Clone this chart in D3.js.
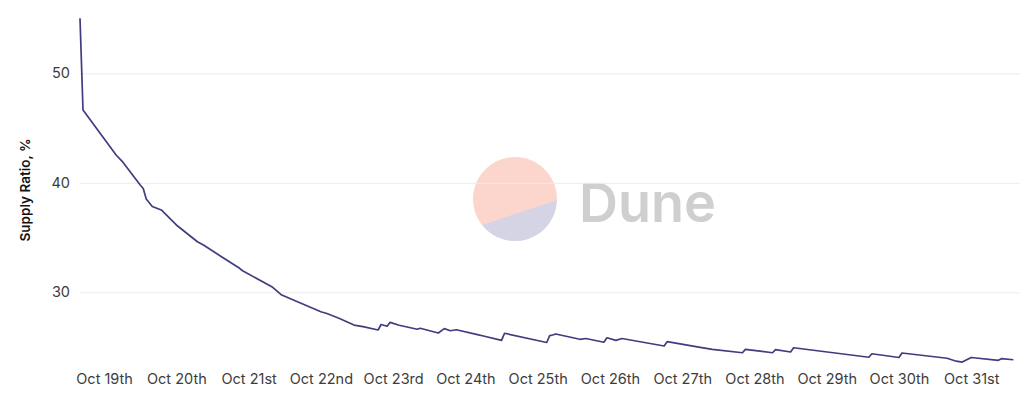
<!DOCTYPE html>
<html>
<head>
<meta charset="utf-8">
<script src="https://cdn.jsdelivr.net/npm/d3@7"></script>
<style>
  html, body { margin: 0; padding: 0; background: #fff; }
  svg { display: block; }
</style>
</head>
<body>
<svg id="chart" width="1024" height="409"></svg>
<script>
// hourly snapshots (breakpoints only)
var times = [
  "2021-10-18 16:00", "2021-10-18 17:00", "2021-10-19 04:00", "2021-10-19 06:00",
  "2021-10-19 12:00", "2021-10-19 13:00", "2021-10-19 14:00", "2021-10-19 16:00",
  "2021-10-19 19:00", "2021-10-20 00:00", "2021-10-20 07:00", "2021-10-20 09:00",
  "2021-10-20 15:00", "2021-10-20 21:00", "2021-10-20 22:00", "2021-10-21 08:00",
  "2021-10-21 11:00", "2021-10-22 00:00", "2021-10-22 02:00", "2021-10-22 06:00",
  "2021-10-22 11:00", "2021-10-22 14:00", "2021-10-22 19:00", "2021-10-22 20:00",
  "2021-10-22 22:00", "2021-10-22 23:00", "2021-10-23 02:00", "2021-10-23 08:00",
  "2021-10-23 09:00", "2021-10-23 15:00", "2021-10-23 17:00", "2021-10-23 19:00",
  "2021-10-23 21:00", "2021-10-24 04:00", "2021-10-24 06:00", "2021-10-24 12:00",
  "2021-10-24 13:00", "2021-10-25 03:00", "2021-10-25 04:00", "2021-10-25 05:00",
  "2021-10-25 06:00", "2021-10-25 14:00", "2021-10-25 16:00", "2021-10-25 22:00",
  "2021-10-25 23:00", "2021-10-26 02:00", "2021-10-26 04:00", "2021-10-26 18:00",
  "2021-10-26 19:00", "2021-10-27 06:00", "2021-10-27 10:00", "2021-10-27 20:00",
  "2021-10-27 21:00", "2021-10-28 06:00", "2021-10-28 07:00", "2021-10-28 12:00",
  "2021-10-28 13:00", "2021-10-29 14:00", "2021-10-29 15:00", "2021-10-30 00:00",
  "2021-10-30 01:00", "2021-10-30 16:00", "2021-10-30 19:00", "2021-10-30 21:00",
  "2021-10-31 00:00", "2021-10-31 09:00", "2021-10-31 10:00", "2021-10-31 14:00"
];
var supplyRatio = [
  55.02, 46.65, 42.54, 41.96,
  39.80, 39.48, 38.52, 37.84,
  37.52, 36.15, 34.62, 34.32,
  33.25, 32.19, 31.97, 30.46,
  29.75, 28.23, 28.06, 27.63,
  27.01, 26.86, 26.56, 27.06,
  26.90, 27.26, 26.99, 26.63,
  26.72, 26.28, 26.68, 26.49,
  26.58, 26.13, 26.01, 25.61,
  26.26, 25.42, 26.04, 26.10,
  26.19, 25.71, 25.78, 25.44,
  25.85, 25.61, 25.78, 25.10,
  25.49, 24.98, 24.79, 24.48,
  24.79, 24.48, 24.76, 24.55,
  24.94, 24.07, 24.39, 24.05,
  24.46, 23.98, 23.71, 23.63,
  24.05, 23.79, 23.94, 23.84
];
var yTicks = [30, 40, 50];
var dayTicks = [
  "2021-10-19", "2021-10-20", "2021-10-21", "2021-10-22", "2021-10-23",
  "2021-10-24", "2021-10-25", "2021-10-26", "2021-10-27", "2021-10-28",
  "2021-10-29", "2021-10-30", "2021-10-31"
];
var yLabel = "Supply Ratio, %";

var parseTime = d3.timeParse("%Y-%m-%d %H:%M");
var parseDay = d3.timeParse("%Y-%m-%d");
var data = times.map(function(t, i){ return {t: parseTime(t), v: supplyRatio[i]}; });

function ordinal(n){
  //1st 2nd 3rd 4th ... 11th 12th 13th
  var s = ["th", "st", "nd", "rd"], v = n % 100;
  return n + (s[(v - 20) % 10] || s[v] || s[0]);
}
function dayLabel(d){
  return d3.timeFormat("%b")(d) + " " + ordinal(d.getDate());
}

var svg = d3.select("#chart");
var plotLeft = 80, plotRight = 1013.4, plotTop = 18, plotBottom = 362.4; //plot box in px

var x = d3.scaleTime().domain(d3.extent(data, function(d){ return d.t; })).range([plotLeft, plotRight]);
var y = d3.scaleLinear().domain([23.6, 55.05]).range([plotBottom, plotTop]);

// watermark sits behind everything
var wm = svg.append("g").attr("class", "watermark");
wm.append("path").attr("d", "M557,200 A42,42 0 1 0 482,225 Z")
  .attr("fill", "#F4603E").attr("fill-opacity", 0.26);
wm.append("path").attr("d", "M557,200 A42,42 0 0 1 482,225 Z")
  .attr("fill", "#1E1870").attr("fill-opacity", 0.19);
wm.append("text").attr("x", 579).attr("y", 222)
  .style("font-family", "Inter, 'Open Sans', sans-serif").style("font-weight", 600)
  .style("font-size", "54px").attr("fill", "#cfcfcf").text("Dune");

// y grid + labels
var yAxis = d3.axisLeft(y).tickValues(yTicks).tickSize(-(1020 - plotLeft)).tickPadding(10);
var gy = svg.append("g").attr("transform", "translate(" + plotLeft + ",0)").call(yAxis);
gy.select(".domain").remove();
gy.selectAll(".tick line").attr("stroke", "#ebebeb");
gy.selectAll(".tick text").attr("fill", "#3c3c3c")
  .style("font-family", "Inter, sans-serif").style("font-size", "14.5px");

// x labels
var xAxis = d3.axisBottom(x).tickValues(dayTicks.map(parseDay)).tickSize(0).tickPadding(9).tickFormat(dayLabel);
var gx = svg.append("g").attr("transform", "translate(0,365)").call(xAxis);
gx.select(".domain").remove();
gx.selectAll(".tick text").attr("fill", "#3c3c3c")
  .style("font-family", "Inter, sans-serif").style("font-size", "14.5px");

// axis title
svg.append("text").attr("transform", "translate(30,190) rotate(-90)")
  .attr("text-anchor", "middle").attr("fill", "#111")
  .style("font-family", "Inter, sans-serif").style("font-weight", 600).style("font-size", "13.5px")
  .text(yLabel);

var line = d3.line().x(function(d){ return x(d.t); }).y(function(d){ return y(d.v); });
svg.append("path").datum(data).attr("d", line)
  .attr("fill", "none").attr("stroke", "#3f3d7e").attr("stroke-width", 1.7)
  .attr("stroke-linejoin", "round");
</script>
</body>
</html>
